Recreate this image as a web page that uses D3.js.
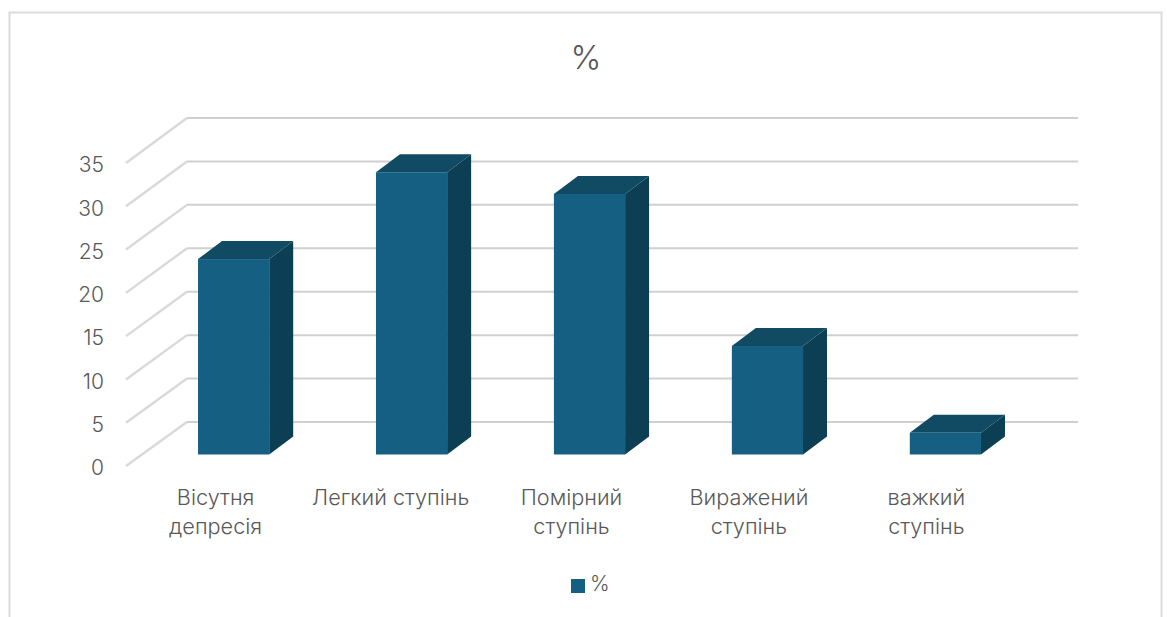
<!DOCTYPE html>
<html lang="uk">
<head>
<meta charset="utf-8">
<script src="https://cdn.jsdelivr.net/npm/d3@7/dist/d3.min.js"></script>
<style>
  html, body { margin: 0; padding: 0; background: #fff; }
  svg { display: block; font-family: Inter, "Noto Sans", sans-serif; font-weight: 350; }
  text { fill: #595959; }
</style>
</head>
<body>
<svg id="chart" width="1167" height="617"></svg>
<script>
const categories = [["Вісутня", "депресія"], ["Легкий ступінь"], ["Помірний", "ступінь"], ["Виражений", "ступінь"], ["важкий", "ступінь"]];
const values = [22.5, 32.5, 30, 12.5, 2.5];
const yTicks = [0, 5, 10, 15, 20, 25, 30, 35];
const seriesName = "%";
const labelShift = [-18, -21, -18, -18.5, -19];

const svg = d3.select("#chart");

// Chart frame: open at the bottom edge
svg.append("path")
  .attr("d", "M9.5,617V12.5H1161.5V617")
  .attr("fill", "none").attr("stroke", "#dcdcdc").attr("stroke-width", 2);

// Title
svg.append("text").attr("x", 586).attr("y", 69).attr("text-anchor", "middle")
  .attr("font-size", 33).attr("font-weight", 300).text(seriesName);

// Vertical scales for the front edge of the floor, the back wall and the bar base
const yFront = d3.scaleLinear().domain([0, 35]).range([466, 163]);
const yBack  = d3.scaleLinear().domain([0, 35]).range([422, 118]);
const yBar   = d3.scaleLinear().domain([0, 35]).range([454.5, 150.5]);

// Gridlines: floor diagonal plus the back-wall run
const grid = svg.append("g");
grid.selectAll("path.side").data(yTicks).join("path").attr("class", "side")
  .attr("d", d => `M126,${yFront(d)}L187,${yBack(d)}`)
  .attr("stroke", "#d9d9d9").attr("stroke-width", 2.4).attr("fill", "none");
grid.selectAll("path.wall").data(yTicks).join("path").attr("class", "wall")
  .attr("d", d => `M187,${yBack(d)}H1078`)
  .attr("stroke", "#d0d0d0").attr("stroke-width", 2).attr("fill", "none");

// Value axis
const axis = svg.append("g").attr("transform", "translate(104,2)")
  .call(d3.axisLeft(yFront).tickValues(yTicks).tickSize(0).tickPadding(0));
axis.select(".domain").remove();
axis.selectAll("text").attr("font-size", 21).attr("font-family", "Inter, 'Noto Sans', sans-serif").attr("font-weight", 350);

// Bars drawn as three visible faces of a box
const x = d3.scaleBand().domain(d3.range(values.length)).range([145, 1034])
  .paddingInner(0.6).paddingOuter(0.298);
const depthX = 24, depthY = -18;
const bars = svg.append("g").selectAll("g").data(values).join("g");
bars.append("path").attr("fill", "#0d3f54").attr("d", (d, i) => {
  const r = x(i) + x.bandwidth();
  return `M${r},${yBar(0)}L${r + depthX},${yBar(0) + depthY}V${yBar(d) + depthY}L${r},${yBar(d)}Z`;
});
bars.append("path").attr("fill", "#104a63").attr("d", (d, i) => {
  const l = x(i), r = l + x.bandwidth(), t = yBar(d);
  return `M${l},${t}L${l + depthX},${t + depthY}H${r + depthX}L${r},${t}Z`;
});
bars.append("rect").attr("fill", "#156082")
  .attr("x", (d, i) => x(i)).attr("y", d => yBar(d))
  .attr("width", x.bandwidth()).attr("height", d => yBar(0) - yBar(d));

// Category labels
const labels = svg.append("g").selectAll("text").data(categories).join("text")
  .attr("text-anchor", "middle").attr("font-size", 21.7);
labels.each(function (lines, i) {
  d3.select(this).selectAll("tspan").data(lines).join("tspan")
    .attr("x", x(i) + x.bandwidth() / 2 + labelShift[i])
    .attr("y", (l, j) => 504.5 + j * 29.5)
    .text(l => l);
});

// Legend
svg.append("rect").attr("x", 571).attr("y", 579).attr("width", 14).attr("height", 14).attr("fill", "#156082");
svg.append("text").attr("x", 590).attr("y", 591).attr("font-size", 21).text(seriesName);
</script>
</body>
</html>
